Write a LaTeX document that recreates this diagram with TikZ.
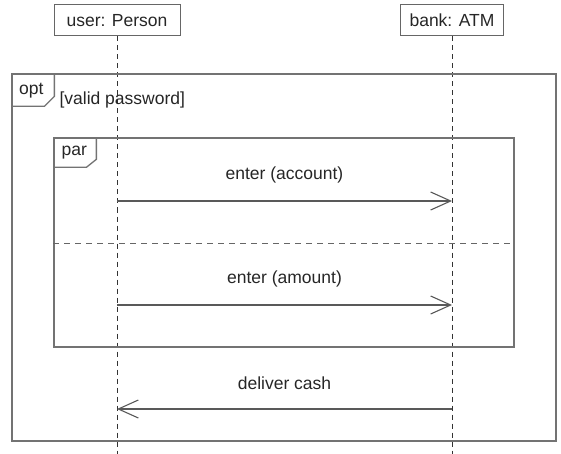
\documentclass[tikz,border=0pt]{standalone}
\usepackage{fontspec}
\setmainfont{Liberation Sans}
\usetikzlibrary{arrows.meta, positioning}

\begin{document}
\begin{tikzpicture}[x=1pt, y=-1pt,
        obj/.style={draw=black!60, line width=1pt, rectangle, minimum height=31pt, inner sep=0pt, font=\fontsize{17.5}{19}\selectfont, text=black!85},
        frame/.style={draw=black!55, line width=1.3pt, rectangle, inner sep=0pt},
        lifeline/.style={draw=black!80, line width=1pt, dash pattern=on 5pt off 4pt},
        msg/.style={draw=black!65, line width=1.1pt, -{Straight Barb[length=20pt, width=18pt, line width=1.1pt]}},
        lbl/.style={font=\fontsize{17.5}{19}\selectfont, text=black!85, inner sep=0pt}]
    \useasboundingbox (0,0) rectangle (561,454);
    % participants
    \node[obj, minimum width=126pt] (user) at (117,20.5) {user: Person};
    \node[obj, minimum width=103pt] (bank) at (452,20.5) {bank: ATM};
    \coordinate (userend) at (117,454);
    \coordinate (bankend) at (452,454);
    \draw[lifeline] (user) -- (userend);
    \draw[lifeline] (bank) -- (bankend);
    % opt fragment
    \node[frame, minimum width=544pt, minimum height=367pt] (opt) at (284,257.5) {};
    \draw[frame] (opt.north west) ++(43,0) -- ++(0,23) -- ++(-10,10) -- ++(-33,0);
    \node[lbl] (optname) at ([xshift=20pt, yshift=-17pt]opt.north west) {opt};
    \node[lbl, anchor=west] (guard) at ([xshift=48pt, yshift=-27pt]opt.north west) {[valid password]};
    % par fragment
    \node[frame, minimum width=460pt, minimum height=209pt] (par) at (284,242.5) {};
    \draw[frame] (par.north west) ++(43,0) -- ++(0,22) -- ++(-10,8) -- ++(-33,0);
    \node[lbl] (parname) at ([xshift=21pt, yshift=-15pt]par.north west) {par};
    \coordinate (sepl) at (par.west |- 0,243);
    \coordinate (sepr) at (par.east |- 0,243);
    \draw[black!60, line width=1pt, dash pattern=on 6pt off 5pt] (sepl) -- (sepr);
    % messages
    \coordinate (u1) at (117,201);
    \coordinate (b1) at (452,201);
    \coordinate (u2) at (117,305);
    \coordinate (b2) at (452,305);
    \coordinate (u3) at (117,409);
    \coordinate (b3) at (452,409);
    \draw[msg] (u1) -- node[lbl, above=17pt] (m1) {enter (account)} (b1);
    \draw[msg] (u2) -- node[lbl, above=17pt] (m2) {enter (amount)} (b2);
    \draw[msg] (b3) -- node[lbl, above=19pt] (m3) {deliver cash} (u3);
\end{tikzpicture}
\end{document}
